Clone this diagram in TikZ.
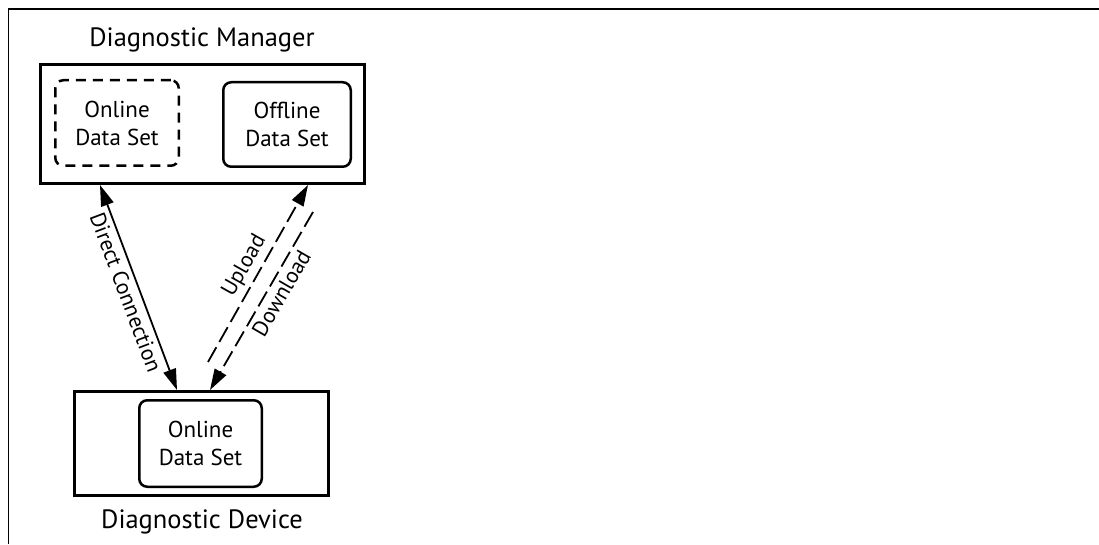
\documentclass[tikz,border=0pt]{standalone}
\usepackage{fontspec}
\setmainfont{PT Sans}
\usetikzlibrary{arrows.meta, positioning, calc}

\tikzset{
  unitbox/.style={draw, line width=3pt, inner sep=0pt},
  setbox/.style={draw, line width=2.5pt, rounded corners=8pt, align=center,
    font=\fontsize{23}{28}\selectfont},
  unitlabel/.style={font=\fontsize{26.5}{30}\selectfont},
  linklabel/.style={font=\fontsize{22}{26}\selectfont, sloped, inner sep=4.5pt}
}

\begin{document}
\begin{tikzpicture}[x=1pt,y=1pt,>={Triangle[length=21pt,width=13pt]}]
  \useasboundingbox (0,0) rectangle (1099,544);
  \draw[line width=1.6pt] (8.5,0)--(8.5,535)--(1099,535);

  \node[unitbox, minimum width=324pt, minimum height=119pt] (mgr) at (202.5,420) {};
  \node[unitlabel] (mgrname) at (202,504) {Diagnostic Manager};
  \node[setbox, dashed, dash pattern=on 10pt off 7pt,
    minimum width=123.5pt, minimum height=85.5pt] (onlinemgr) at (117,421)
    {Online\\Data Set};
  \node[setbox, minimum width=127.5pt, minimum height=84.5pt] (offline)
    at (287,419.5) {Offline\\Data Set};

  \node[unitbox, minimum width=254pt, minimum height=104pt] (dev) at (201.5,100.5) {};
  \node[setbox, minimum width=122.5pt, minimum height=86.5pt] (onlinedev)
    at (200.5,100.5) {Online\\Data Set};
  \node[unitlabel] (devname) at (202,22) {Diagnostic Device};

  \coordinate (upfrom) at (208,182);
  \coordinate (downfrom) at (313,332);

  \draw[<->,line width=1.8pt] ([xshift=-102.5pt]mgr.south)
    -- node[linklabel,midway,below]{Direct Connection} ([xshift=-24.5pt]dev.north);
  \draw[->,line width=1.8pt,dash pattern=on 17pt off 6pt] (upfrom)
    -- node[linklabel,midway,above]{Upload} ([xshift=105.5pt]mgr.south);
  \draw[->,line width=1.8pt,dash pattern=on 17pt off 6pt] (downfrom)
    -- node[linklabel,pos=0.42,below]{Download} ([xshift=8.5pt]dev.north);
\end{tikzpicture}
\end{document}
